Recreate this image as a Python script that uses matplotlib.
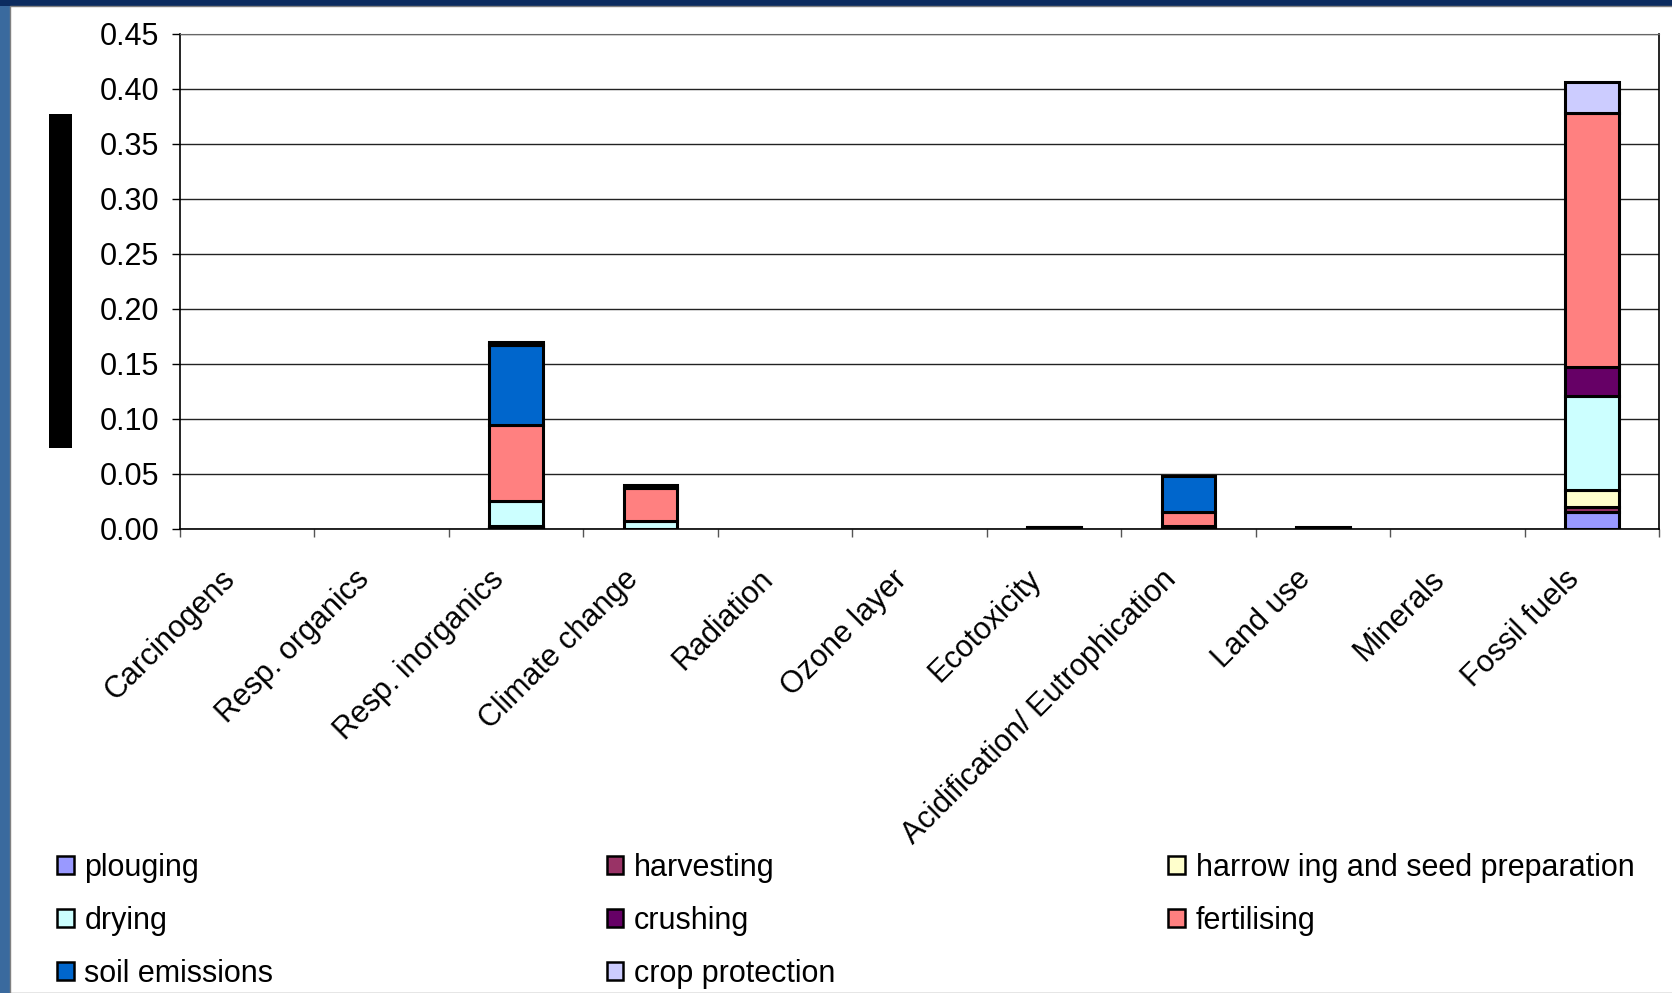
import numpy as np
import matplotlib
matplotlib.use("Agg")
import matplotlib.pyplot as plt
import matplotlib.patches as mpatches

plt.rcParams["font.family"] = ["Liberation Sans", "DejaVu Sans"]

categories = ["Carcinogens", "Resp. organics", "Resp. inorganics", "Climate change",
              "Radiation", "Ozone layer", "Ecotoxicity", "Acidification/ Eutrophication",
              "Land use", "Minerals", "Fossil fuels"]

# stacked from bottom to top, same order as the legend
series_names = ["plouging", "harvesting", "harrow ing and seed preparation", "drying",
                "crushing", "fertilising", "soil emissions", "crop protection"]
plouging    = [0, 0, 0.001, 0.0,    0, 0, 0.0005, 0.001, 0.0005, 0, 0.015]
harvesting  = [0, 0, 0.001, 0.0,    0, 0, 0.0005, 0.0,   0.0005, 0, 0.005]
harrowing   = [0, 0, 0.001, 0.0,    0, 0, 0.0,    0.0,   0.0,    0, 0.015]
drying      = [0, 0, 0.022, 0.007,  0, 0, 0.0005, 0.002, 0.0,    0, 0.086]
crushing    = [0, 0, 0.0,   0.0,    0, 0, 0.0,    0.0,   0.0,    0, 0.026]
fertilising = [0, 0, 0.069, 0.030,  0, 0, 0.0005, 0.012, 0.001,  0, 0.231]
soil_emis   = [0, 0, 0.073, 0.003,  0, 0, 0.0,    0.033, 0.0,    0, 0.0]
crop_prot   = [0, 0, 0.003, 0.0,    0, 0, 0.0,    0.0,   0.0,    0, 0.028]
series = [plouging, harvesting, harrowing, drying, crushing, fertilising, soil_emis, crop_prot]
colors = ["#9999FF", "#993366", "#FFFFCC", "#CCFFFF", "#660066", "#FF8080", "#0066CC", "#CCCCFF"]

y_ticks = np.arange(0, 0.451, 0.05)

fig = plt.figure(figsize=(16.72, 9.93), dpi=100)
fig.patch.set_facecolor("#0c2c60")
# slide background strip, white panel and the black block left of the axis
fig.patches.append(mpatches.Rectangle((0, 0), 10 / 1672, 1 - 6 / 993, transform=fig.transFigure,
                                      facecolor="#3a6a9e", edgecolor="none", zorder=-11))
fig.patches.append(mpatches.Rectangle((10 / 1672, 0), 1, 1 - 6 / 993, transform=fig.transFigure,
                                      facecolor="white", edgecolor="#808080", lw=1, zorder=-10))
fig.patches.append(mpatches.Rectangle((49 / 1672, 1 - 448 / 993), 23 / 1672, 334 / 993,
                                      transform=fig.transFigure, facecolor="black", zorder=1))

ax = fig.add_axes([180 / 1672, 1 - 529 / 993, (1659 - 180) / 1672, (529 - 33.5) / 993])
ax.set_facecolor("white")

x = np.arange(len(categories))
bottom = np.zeros(len(categories))
for vals, col in zip(series, colors):
    vals = np.array(vals)
    lw = np.where(vals > 0, 2.2, 0.0)
    ax.bar(x, vals, width=0.4, bottom=bottom, color=col, edgecolor="black",
           linewidth=lw, zorder=3)
    bottom += vals

ax.set_xlim(-0.5, len(categories) - 0.5)
ax.set_ylim(0, 0.45)
ax.set_yticks(y_ticks)
ax.set_yticklabels([f"{v:.2f}" for v in y_ticks])
ax.yaxis.grid(True, color="#222222", linewidth=1, zorder=0)
ax.set_axisbelow(True)

# label anchors a bit left of the category centre (Excel style), no visible major ticks
ax.set_xticks(x - 0.125)
ax.set_xticklabels(categories, rotation=45, ha="right", va="center", rotation_mode="anchor")
ax.set_xticks(np.arange(len(categories) + 1) - 0.5, minor=True)
ax.tick_params(axis="x", which="major", length=0, pad=33, labelsize=22)
ax.tick_params(axis="x", which="minor", length=6, width=1, color="#555555")
ax.tick_params(axis="y", length=6, width=1, pad=9, labelsize=22)

for side in ["left", "bottom", "right"]:
    ax.spines[side].set_color("black")
    ax.spines[side].set_linewidth(1.2)
ax.spines["top"].set_color("#666666")

# legend, row by row like the original (3 columns)
handles = [mpatches.Patch(facecolor=c, edgecolor="black", linewidth=1.8, label=n)
           for c, n in zip(colors, series_names)]
order = [0, 3, 6, 1, 4, 7, 2, 5]
fig.legend([handles[i] for i in order], [series_names[i] for i in order],
           ncol=3, loc="upper left", bbox_to_anchor=(57 / 1672, 1 - 853 / 993),
           frameon=False, fontsize=22, handlelength=0.55, handleheight=0.55,
           handletextpad=0.35, labelspacing=0.75, columnspacing=10.9,
           borderpad=0, borderaxespad=0)

fig.savefig("out.png", dpi=100, facecolor=fig.get_facecolor())
